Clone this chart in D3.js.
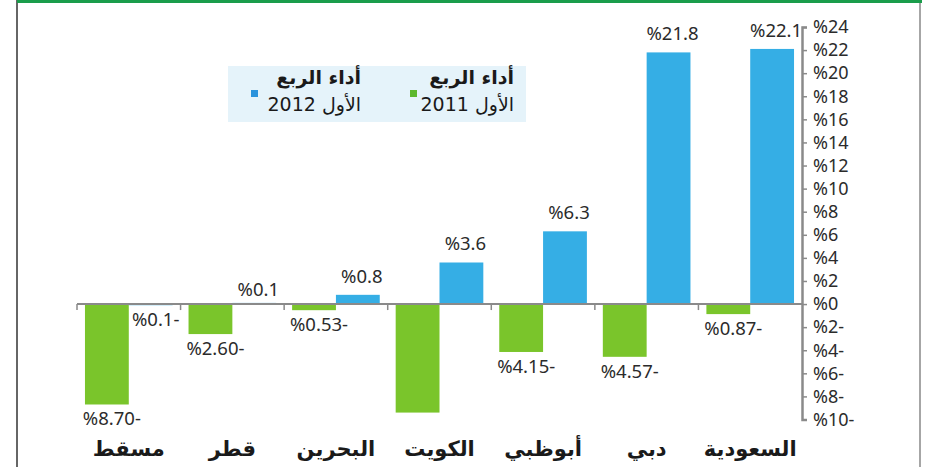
<!DOCTYPE html>
<html>
<head>
<meta charset="utf-8">
<script src="https://cdn.jsdelivr.net/npm/d3@7"></script>
<style>
  body { margin: 0; background: #fff; }
  svg { display: block; }
</style>
</head>
<body>
<div id="chart"></div>
<script>
let width = 926,
    height = 467,
    margin = ({ top: 27, right: 124, bottom: 48, left: 77 });

// categories from left to right as drawn
const cities = ["مسقط", "قطر", "البحرين", "الكويت", "أبوظبي", "دبي", "السعودية"];
const q1_2011 = [-8.70, -2.60, -0.53, -9.4, -4.15, -4.57, -0.87];
const q1_2012 = [-0.1, 0.1, 0.8, 3.6, 6.3, 21.8, 22.1];
const show2011 = [true, true, true, false, true, true, true];
const yTicks = [24, 22, 20, 18, 16, 14, 12, 10, 8, 6, 4, 2, 0, -2, -4, -6, -8, -10];
const series = ["2011", "2012"];
const legendLabels = ["أداء الربع", "الأول"];

const colors = { "2011": "#7ac52b", "2012": "#35aee5" };
const legendColors = { "2011": "#5cb82e", "2012": "#2a93dc" };

const svg = d3.select("#chart")
  .append("svg")
  .attr("width", width)
  .attr("height", height);

// frame
svg.append("line").attr("x1", 17).attr("x2", 17).attr("y1", 0).attr("y2", height)
  .attr("stroke", "#333").attr("stroke-width", 1.5);
svg.append("line").attr("x1", 920).attr("x2", 920).attr("y1", 0).attr("y2", height)
  .attr("stroke", "#888").attr("stroke-width", 1.5);
svg.append("line").attr("x1", 17).attr("x2", 922).attr("y1", 1.5).attr("y2", 1.5)
  .attr("stroke", "#1a9d4b").attr("stroke-width", 3);

let y = d3.scaleLinear()
  .domain([-10, 24])
  .range([419.5, 27]);

let x0 = d3.scaleBand()
  .domain(cities)
  .range([77, 802])
  .padding(0);

let x1 = d3.scaleBand()
  .domain(series)
  .range([0, x0.bandwidth()])
  .paddingInner(0)
  .paddingOuter(8 / 44);

let rows = cities.map((c, i) => ({
  city: c,
  vals: [
    { s: "2011", v: q1_2011[i], show: show2011[i], fmt: d3.format(".2f") },
    { s: "2012", v: q1_2012[i], show: true, fmt: d3.format(".1f") }
  ]
}));

let groups = svg.append("g").selectAll("g")
  .data(rows)
  .join("g")
  .attr("transform", d => `translate(${x0(d.city)},0)`);

groups.selectAll("rect")
  .data(d => d.vals)
  .join("rect")
  .attr("x", d => x1(d.s))
  .attr("width", x1.bandwidth())
  .attr("y", d => y(Math.max(0, d.v)))
  .attr("height", d => Math.abs(y(d.v) - y(0)))
  .attr("fill", d => colors[d.s]);

// value labels
groups.selectAll("text.val")
  .data(d => d.vals.filter(v => v.show))
  .join("text")
  .attr("class", "val")
  .attr("x", d => x1(d.s) + x1.bandwidth() / 2 + (d.v < 0 ? 5 : 4))
  .attr("y", d => d.v >= 0 ? y(d.v) - (d.v < 0.5 ? 12 : 17) : y(d.v) + 16)
  .attr("text-anchor", "middle")
  .attr("dominant-baseline", "middle")
  .attr("font-family", "'Noto Sans', 'Open Sans', sans-serif")
  .attr("font-size", 18.5)
  .attr("fill", "#2b2b2b")
  .text(d => "%" + d.fmt(Math.abs(d.v)) + (d.v < 0 ? "-" : ""));

// zero baseline with small separator ticks
svg.append("line")
  .attr("x1", x0.range()[0]).attr("x2", x0.range()[1])
  .attr("y1", y(0)).attr("y2", y(0))
  .attr("stroke", "#8a8a8a").attr("stroke-width", 2);

svg.append("g").selectAll("line")
  .data(cities)
  .join("line")
  .attr("x1", d => x0(d)).attr("x2", d => x0(d))
  .attr("y1", y(0)).attr("y2", y(0) + 6)
  .attr("stroke", "#8a8a8a").attr("stroke-width", 1.5);

// right axis
let axis = svg.append("g")
  .attr("transform", `translate(802,0)`)
  .call(d3.axisRight(y)
    .tickValues(yTicks)
    .tickSize(5)
    .tickPadding(6)
    .tickFormat(d => "%" + Math.abs(d) + (d < 0 ? "-" : "")));

axis.select(".domain").attr("stroke", "#8a8a8a").attr("stroke-width", 2.5);
axis.selectAll(".tick line").attr("stroke", "#8a8a8a").attr("stroke-width", 1.5);
axis.selectAll(".tick text")
  .attr("font-family", "'Noto Sans', 'Open Sans', sans-serif")
  .attr("font-size", 18)
  .attr("fill", "#2b2b2b");

// category labels
svg.append("g").selectAll("text")
  .data(cities)
  .join("text")
  .attr("x", d => x0(d) + x0.bandwidth() / 2)
  .attr("y", 456)
  .attr("text-anchor", "middle")
  .attr("font-family", "'DejaVu Sans', sans-serif")
  .attr("font-weight", "bold")
  .attr("font-size", 21)
  .attr("fill", "#1a1a1a")
  .text(d => d);

// legend
let legend = svg.append("g");
legend.append("rect")
  .attr("x", 228).attr("y", 66)
  .attr("width", 298).attr("height", 56)
  .attr("fill", "#e5f3fa");

let legendItems = [
  { s: "2011", right: 514, sq: 410 },
  { s: "2012", right: 361, sq: 251 }
];

legendItems.forEach(item => {
  legend.append("rect")
    .attr("x", item.sq).attr("y", 90)
    .attr("width", 7).attr("height", 7)
    .attr("fill", legendColors[item.s]);

  legend.append("text")
    .attr("x", item.right).attr("y", 84)
    .attr("direction", "rtl")
    .attr("text-anchor", "start")
    .attr("font-family", "'DejaVu Sans', sans-serif")
    .attr("font-weight", "bold")
    .attr("font-size", 19)
    .attr("fill", "#1a1a1a")
    .text(legendLabels[0]);

  legend.append("text")
    .attr("x", item.right).attr("y", 111)
    .attr("direction", "rtl")
    .attr("text-anchor", "start")
    .attr("font-family", "'DejaVu Sans', sans-serif")
    .attr("font-size", 19)
    .attr("fill", "#1a1a1a")
    .text(legendLabels[1] + " " + item.s);
});
</script>
</body>
</html>
